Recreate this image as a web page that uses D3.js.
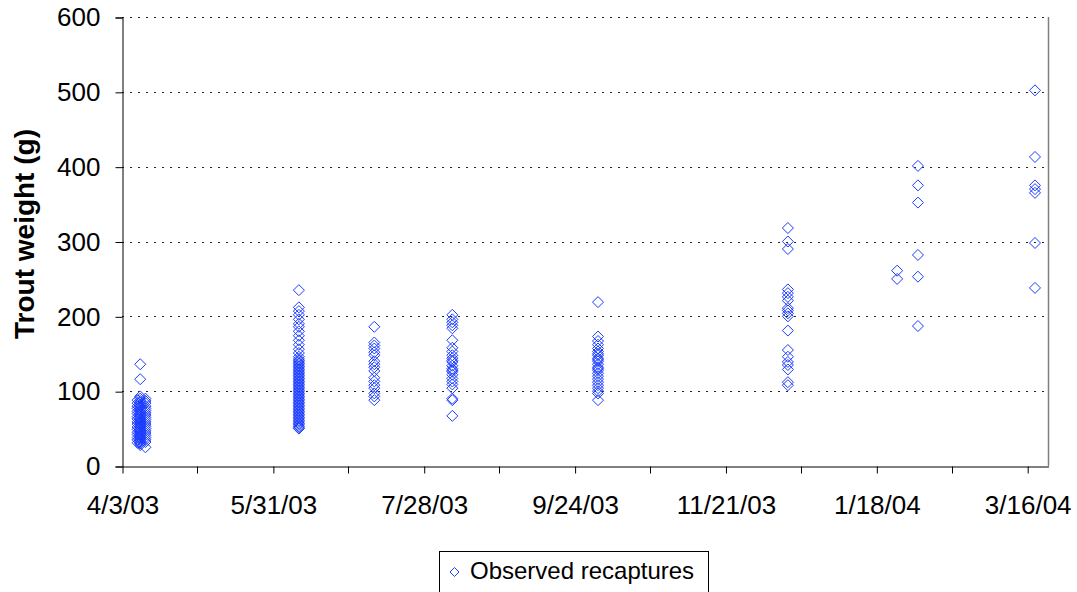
<!DOCTYPE html>
<html>
<head>
<meta charset="utf-8">
<script src="https://cdn.jsdelivr.net/npm/d3@7"></script>
<style>
  html, body { margin: 0; padding: 0; background: #fff; }
  svg { display: block; }
  text { font-family: Arial, "Liberation Sans", sans-serif; fill: #000; }
</style>
</head>
<body>
<svg id="chart" width="1077" height="592"></svg>
<script>
// ---- data ----
const sampleDates = ["2003-04-09", "2003-04-10", "2003-04-12", "2003-06-10", "2003-07-09", "2003-08-08",
                     "2003-10-03", "2003-12-15", "2004-01-26", "2004-02-03", "2004-03-19"];
const weights0 = [88, 84, 80, 77, 73, 70, 66, 63, 59, 56, 52, 49, 45, 42, 38, 35, 31];
const weights1 = [136, 116, 93, 90, 87, 85, 82, 80, 78, 75, 72, 70, 68, 65, 63, 62, 60, 58, 57, 55, 53, 52, 50, 48,
                  47, 45, 43, 42, 40, 38, 37, 35, 33, 31, 30, 28];
const weights2 = [90, 87, 84, 80, 77, 74, 71, 68, 65, 62, 59, 56, 53, 50, 47, 44, 41, 38, 35, 32, 25];
const weights3 = [235, 212, 207, 202, 196, 190, 186, 180, 174, 168, 162, 156, 151, 146, 143, 141, 139, 137, 135, 133,
                  131, 129, 127, 125, 123, 121, 119, 117, 115, 113, 111, 109, 107, 105, 103, 101, 99, 97, 95, 93, 91,
                  89, 87, 85, 83, 81, 79, 77, 75, 73, 71, 69, 67, 65, 63, 61, 59, 57, 55, 53, 51, 50];
const weights4 = [186, 165, 161, 157, 152, 148, 140, 136, 132, 127, 118, 113, 108, 104, 97, 93, 88];
const weights5 = [202, 196, 192, 188, 184, 168, 158, 153, 148, 144, 141, 139, 134, 130, 128, 126, 122, 117, 113, 109, 104, 90, 88, 67];
const weights6 = [219, 173, 167, 162, 157, 153, 150, 148, 144, 142, 140, 136, 132, 130, 128, 124, 120, 116, 112, 108, 104, 100, 97, 88];
const weights7 = [318, 300, 290, 236, 231, 226, 221, 211, 208, 204, 200, 181, 155, 146, 139, 135, 129, 112, 108];
const weights8 = [261, 250];
const weights9 = [401, 375, 352, 282, 253, 187];
const weights10 = [502, 413, 375, 370, 365, 298, 238];
const weightSets = [weights0, weights1, weights2, weights3, weights4, weights5, weights6, weights7, weights8, weights9, weights10];

const xDomain = ["2003-04-03", "2004-03-24"];
const xTickLabels = ["4/3/03", "5/31/03", "7/28/03", "9/24/03", "11/21/03", "1/18/04", "3/16/04"];
const xTickDates = ["2003-04-03", "2003-05-31", "2003-07-28", "2003-09-24", "2003-11-21", "2004-01-18", "2004-03-16"];
const xMinorDates = ["2003-05-02", "2003-06-29", "2003-08-26", "2003-10-23", "2003-12-20", "2004-02-16"];
const yTicks = [0, 100, 200, 300, 400, 500, 600];
const yTitle = "Trout weight (g)";
const legendLabel = "Observed recaptures";

// ---- build ----
const parse = d3.utcParse("%Y-%m-%d");
const points = [];
sampleDates.forEach((d, i) => weightSets[i].forEach(w => points.push({ date: parse(d), weight: w })));

const svg = d3.select("#chart");
const L = 122, R = 1048, T = 17, B = 466;

const x = d3.scaleUtc().domain(xDomain.map(parse)).range([L, R]);
const y = d3.scaleLinear().domain([0, 600]).range([B, T]);

// gridlines
svg.append("g").selectAll("line").data(yTicks.filter(v => v > 0)).join("line")
  .attr("x1", L).attr("x2", R)
  .attr("y1", d => Math.round(y(d)) + 0.5).attr("y2", d => Math.round(y(d)) + 0.5)
  .attr("stroke", "#222").attr("stroke-width", 1).attr("stroke-dasharray", "2,6");

// right border
svg.append("line").attr("x1", R + 0.5).attr("x2", R + 0.5).attr("y1", T).attr("y2", B)
  .attr("stroke", "#808080").attr("stroke-width", 1.5);

// y axis
const yAxis = d3.axisLeft(y).tickValues(yTicks).tickSize(7).tickPadding(15);
const gy = svg.append("g").attr("transform", `translate(${L + 0.5},0.5)`).call(yAxis);
gy.select(".domain").attr("stroke", "#000");
gy.selectAll(".tick line").attr("stroke", "#000");
gy.selectAll(".tick text").style("font-size", "26px").attr("font-family", "Arial, 'Liberation Sans', sans-serif").attr("fill", "#000");

// x axis
const fmt = d => xTickLabels[xTickDates.indexOf(d3.utcFormat("%Y-%m-%d")(d))];
const xAxis = d3.axisBottom(x).tickValues(xTickDates.map(parse)).tickFormat(fmt).tickSize(7).tickSizeOuter(0).tickPadding(22);
const gx = svg.append("g").attr("transform", `translate(0.5,${B + 0.5})`).call(xAxis);
gx.select(".domain").attr("stroke", "#000");
gx.selectAll(".tick line").attr("stroke", "#000");
gx.selectAll(".tick text").style("font-size", "26px").attr("font-family", "Arial, 'Liberation Sans', sans-serif").attr("fill", "#000");
gx.append("g").selectAll("line").data(xMinorDates.map(parse)).join("line")
  .attr("x1", d => Math.round(x(d))).attr("x2", d => Math.round(x(d)))
  .attr("y1", 0).attr("y2", 7).attr("stroke", "#000");

// y title
svg.append("text")
  .attr("transform", `translate(34,234) rotate(-90)`)
  .attr("text-anchor", "middle")
  .style("font-size", "28px").style("font-weight", "bold")
  .text(yTitle);

// points
const diamond = "M0,-5.5L5.5,0L0,5.5L-5.5,0Z";
svg.append("g").selectAll("path").data(points).join("path")
  .attr("d", diamond)
  .attr("transform", d => `translate(${x(d.date)},${y(d.weight)})`)
  .attr("fill", "none").attr("stroke", "#1a3cff").attr("stroke-width", 1);

// legend
const lg = svg.append("g");
lg.append("rect").attr("x", 439.5).attr("y", 551.5).attr("width", 269).attr("height", 50)
  .attr("fill", "#fff").attr("stroke", "#000").attr("stroke-width", 1);
lg.append("path").attr("d", "M0,-4.5L4.5,0L0,4.5L-4.5,0Z")
  .attr("transform", "translate(454.5,572)")
  .attr("fill", "none").attr("stroke", "#1a3cff").attr("stroke-width", 1);
lg.append("text").attr("x", 470).attr("y", 579).style("font-size", "24px").text(legendLabel);
</script>
</body>
</html>
